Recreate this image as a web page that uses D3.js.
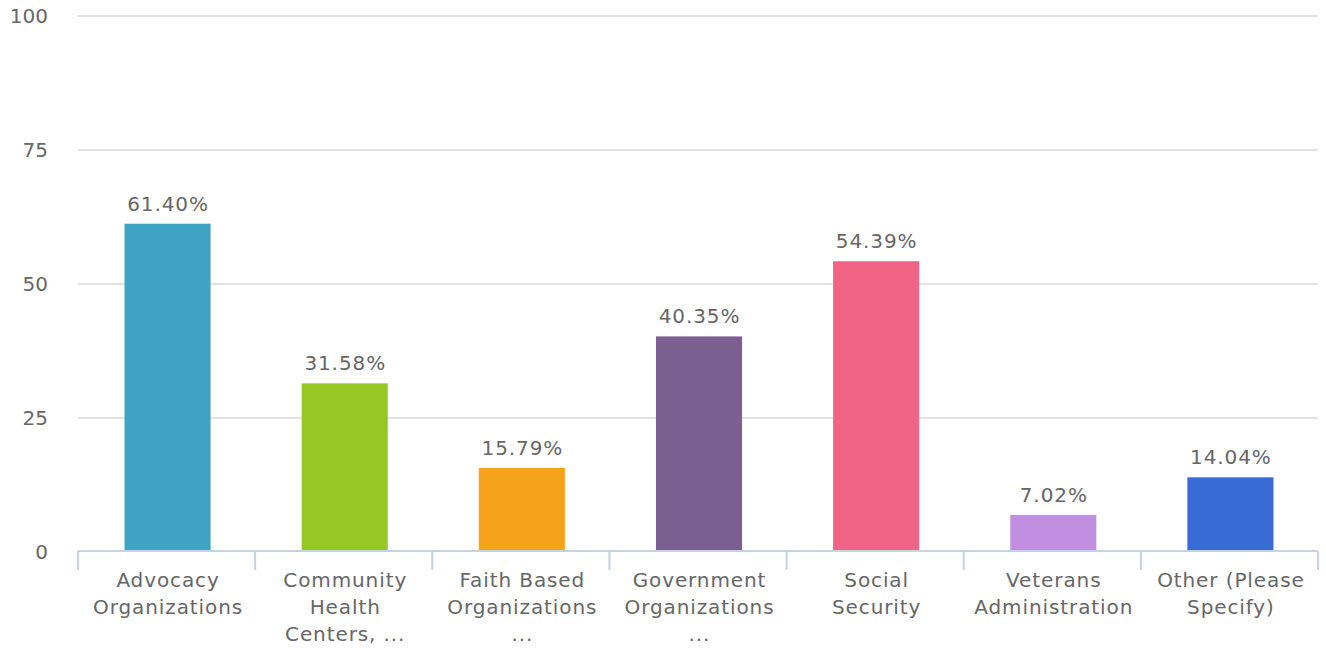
<!DOCTYPE html>
<html>
<head>
<meta charset="utf-8">
<script src="https://cdn.jsdelivr.net/npm/d3@7"></script>
<style>
  html, body { margin: 0; padding: 0; background: #fff; }
  svg text { font-family: "DejaVu Sans", Verdana, sans-serif; fill: #666; }
  .lbl { letter-spacing: 0.9px; }
</style>
</head>
<body>
<svg id="chart" width="1326" height="649"></svg>
<script>
// Survey responses: share of respondents per organization type
const categories = [
  ["Advocacy", "Organizations"],
  ["Community", "Health", "Centers, ..."],
  ["Faith Based", "Organizations", "..."],
  ["Government", "Organizations", "..."],
  ["Social", "Security"],
  ["Veterans", "Administration"],
  ["Other (Please", "Specify)"]
];
const values = [61.40, 31.58, 15.79, 40.35, 54.39, 7.02, 14.04];
const colors = ["#3fa3c3", "#95c825", "#f5a31a", "#7b5f90", "#f06384", "#c08fe2", "#3a6bd4"];
const yTicks = [0, 25, 50, 75, 100];

const svg = d3.select("#chart");
const plotLeft = 78, plotRight = 1318, plotTop = 17, plotBottom = 552.5, axisY = 551;

const x = d3.scaleBand()
  .domain(d3.range(categories.length))
  .range([plotLeft, plotRight])
  .paddingInner(0)
  .paddingOuter(0);

const y = d3.scaleLinear().domain([0, 100]).range([plotBottom, plotTop]);

// horizontal gridlines
svg.append("g")
  .selectAll("line")
  .data(yTicks.filter(d => d > 0))
  .join("line")
  .attr("x1", plotLeft).attr("x2", plotRight)
  .attr("y1", d => Math.round(y(d)) - 1).attr("y2", d => Math.round(y(d)) - 1)
  .attr("stroke", "#d9d9d9").attr("stroke-width", 1.5);

// y tick labels
svg.append("g")
  .selectAll("text")
  .data(yTicks)
  .join("text")
  .attr("x", 48)
  .attr("y", d => y(d) - 1)
  .attr("dy", "0.35em")
  .attr("text-anchor", "end")
  .attr("font-size", 20)
  .text(d => d);

// bars
const bw = x.bandwidth() * 0.486;
svg.append("g")
  .selectAll("rect")
  .data(values)
  .join("rect")
  .attr("x", (d, i) => x(i) + x.bandwidth() / 2 - bw / 2 + 1)
  .attr("width", bw)
  .attr("y", d => y(d))
  .attr("height", d => axisY - y(d))
  .attr("fill", (d, i) => colors[i]);

// value labels
svg.append("g")
  .selectAll("text")
  .data(values)
  .join("text")
  .attr("class", "lbl")
  .attr("x", (d, i) => x(i) + x.bandwidth() / 2 + 1.5)
  .attr("y", d => y(d) - 13)
  .attr("text-anchor", "middle")
  .attr("font-size", 20)
  .text(d => d.toFixed(2) + "%");

// x axis baseline and band ticks
const axis = svg.append("g");
axis.append("line")
  .attr("x1", plotLeft).attr("x2", plotRight)
  .attr("y1", axisY).attr("y2", axisY)
  .attr("stroke", "#c4d2e2").attr("stroke-width", 2);
axis.selectAll("line.tick")
  .data(d3.range(categories.length + 1))
  .join("line")
  .attr("class", "tick")
  .attr("x1", i => i < categories.length ? x(i) : plotRight)
  .attr("x2", i => i < categories.length ? x(i) : plotRight)
  .attr("y1", axisY).attr("y2", 570)
  .attr("stroke", "#c4d2e2").attr("stroke-width", 2);

// category labels
const lab = svg.append("g")
  .selectAll("text")
  .data(categories)
  .join("text")
  .attr("class", "lbl")
  .attr("text-anchor", "middle")
  .attr("font-size", 20)
  .attr("x", (d, i) => x(i) + x.bandwidth() / 2 + 1.5)
  .attr("y", 587);
lab.selectAll("tspan")
  .data(d => d)
  .join("tspan")
  .attr("x", function () { return d3.select(this.parentNode).attr("x"); })
  .attr("dy", (d, i) => i === 0 ? 0 : 27)
  .text(d => d);
</script>
</body>
</html>
